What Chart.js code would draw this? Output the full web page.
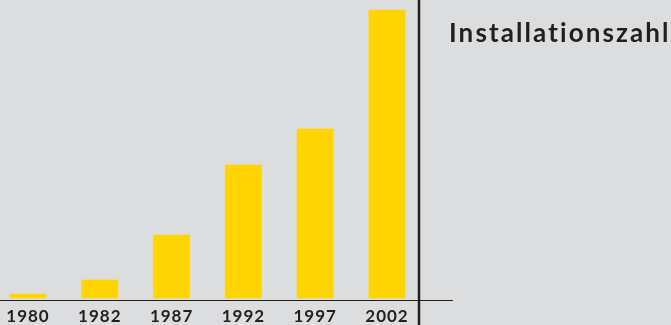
<!DOCTYPE html>
<html>
<head>
<meta charset="utf-8">
<script src="https://cdn.jsdelivr.net/npm/chart.js@4"></script>
<style>
    html, body { margin: 0; padding: 0; background: #dcdddf; }
    #marco { position: relative; width: 671px; height: 325px; }
    #titulo {
        position: absolute; left: 449px; top: 16px;
        font: bold 26px Lato, sans-serif; letter-spacing: 2.1px; color: #231f20;
        white-space: nowrap;
    }
</style>
</head>
<body>
<div id="marco">
    <canvas id="grafica" width="671" height="325"></canvas>
    <div id="titulo">Installationszahl</div>
</div>
<script>
// Datos (valores relativos)
const anios = ['1980', '1982', '1987', '1992', '1997', '2002'];
const instalaciones = [4, 18, 63, 133, 169, 288];
const valorMaximo = 288;

const colorBarra = '#ffd400';
const colorLinea = '#231f20';

// Líneas de base y separador vertical
const lineasMarco = {
    id: 'lineasMarco',
    beforeDraw(chart) {
        chart.ctx.letterSpacing = '1px';
    },
    afterDraw(chart) {
        const { ctx, chartArea } = chart;
        ctx.save();
        ctx.strokeStyle = colorLinea;
        ctx.lineWidth = 1.2;
        ctx.beginPath();
        ctx.moveTo(0, chartArea.bottom + 2.5);
        ctx.lineTo(chartArea.right + 66, chartArea.bottom + 2.5);
        ctx.stroke();
        ctx.lineWidth = 2.5;
        ctx.beginPath();
        ctx.moveTo(chartArea.right + 32, 0);
        ctx.lineTo(chartArea.right + 32, chart.height);
        ctx.stroke();
        ctx.restore();
    }
};

new Chart(document.getElementById('grafica'), {
    type: 'bar',
    data: {
        labels: anios,
        datasets: [{ data: instalaciones, backgroundColor: colorBarra, barThickness: 36, clip: false }]
    },
    options: {
        responsive: false,
        animation: false,
        layout: { padding: { left: 28, right: 284, top: 10, bottom: 0 } },
        plugins: { legend: { display: false }, tooltip: { enabled: false } },
        scales: {
            x: {
                offset: false,
                grid: { display: false },
                border: { display: false },
                afterFit(escala) { escala.height = 27; },
                ticks: { color: colorLinea, padding: 2, maxRotation: 0, autoSkip: false,
                    font: { family: 'Lato', weight: 'bold', size: 17, lineHeight: 1 } }
            },
            y: { display: false, min: 0, max: valorMaximo }
        }
    },
    plugins: [lineasMarco]
});
</script>
</body>
</html>
